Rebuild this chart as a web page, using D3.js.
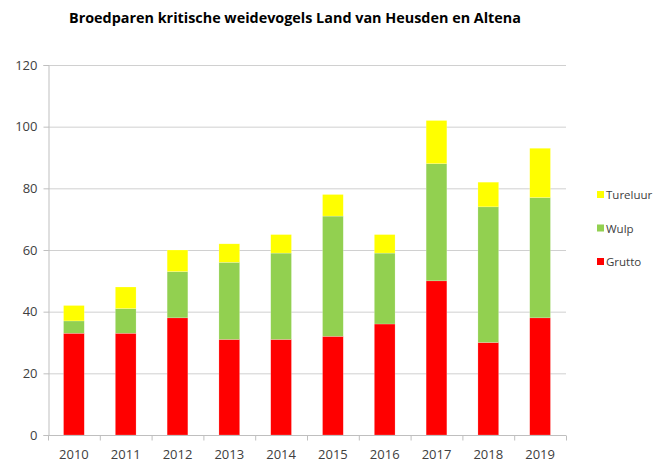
<!DOCTYPE html>
<html><head><meta charset="utf-8">
<script src="https://cdn.jsdelivr.net/npm/d3@7"></script>
<style>body{margin:0;background:#fff}</style>
</head><body>
<script>
const years = ["2010","2011","2012","2013","2014","2015","2016","2017","2018","2019"];
const grutto   = [33,33,38,31,31,32,36,50,30,38];
const wulp     = [4,8,15,25,28,39,23,38,44,39];
const tureluur = [5,7,7,6,6,7,6,14,8,16];
const seriesNames = ["Grutto","Wulp","Tureluur"];
const seriesColors = ["#ff0000","#92d050","#ffff00"];
const yTicks = [0,20,40,60,80,100,120];
const title = "Broedparen kritische weidevogels Land van Heusden en Altena";

const W=656,H=462;
const svg=d3.select("body").append("svg").attr("width",W).attr("height",H);
const font="'Open Sans', sans-serif";
const m={l:48,r:566,t:65,b:435};

const rows=years.map((y,i)=>({year:y,Grutto:grutto[i],Wulp:wulp[i],Tureluur:tureluur[i]}));
const stack=d3.stack().keys(seriesNames)(rows);

const x=d3.scaleBand().domain(years).range([m.l,m.r]).paddingInner(0.6).paddingOuter(0.3);
const y=d3.scaleLinear().domain([0,120]).range([m.b,m.t]);

svg.append("text").attr("x",295).attr("y",23).attr("text-anchor","middle")
  .attr("font-family",font).attr("font-weight","bold").attr("font-size",14.5).attr("fill","#000")
  .attr("textLength",452).attr("lengthAdjust","spacingAndGlyphs")
  .text(title);

// gridlines
svg.append("g").selectAll("line").data(yTicks.filter(d=>d>0)).join("line")
  .attr("x1",m.l).attr("x2",m.r).attr("y1",d=>y(d)+0.5).attr("y2",d=>y(d)+0.5)
  .attr("stroke","#d0d0d0").attr("stroke-width",1);

// y axis
const ya=svg.append("g").attr("transform",`translate(${m.l+0.5},0)`)
  .call(d3.axisLeft(y).tickValues(yTicks).tickSize(5).tickPadding(6));
ya.select(".domain").attr("stroke","#bfbfbf");
ya.selectAll(".tick line").attr("stroke","#bfbfbf");
ya.selectAll("text").attr("font-family",font).attr("font-size",13).attr("fill","#404040");

// bars
svg.append("g").selectAll("g").data(stack).join("g")
  .attr("fill",(d,i)=>seriesColors[i])
  .selectAll("rect").data(d=>d).join("rect")
  .attr("x",d=>x(d.data.year)).attr("width",x.bandwidth())
  .attr("y",d=>y(d[1])).attr("height",d=>y(d[0])-y(d[1]))
  .attr("stroke","rgba(255,255,255,0.4)").attr("stroke-width",0.5);

// x axis
const xa=svg.append("g").attr("transform",`translate(0,${m.b+0.5})`);
xa.append("line").attr("x1",m.l).attr("x2",m.r).attr("stroke","#bfbfbf");
const bounds=years.map(y0=>x(y0)-x.step()*0.3).concat([m.r]);
xa.selectAll("line.t").data(bounds).join("line").attr("class","t")
  .attr("x1",d=>d+0.5).attr("x2",d=>d+0.5).attr("y1",0).attr("y2",5).attr("stroke","#bfbfbf");
xa.selectAll("text").data(years).join("text")
  .attr("x",d=>x(d)+x.bandwidth()/2).attr("y",23.5).attr("text-anchor","middle")
  .attr("font-family",font).attr("font-size",13).attr("fill","#404040").text(d=>d);

// legend
const leg=[...seriesNames].reverse();
const legCol=[...seriesColors].reverse();
const lg=svg.append("g").selectAll("g").data(leg).join("g")
  .attr("transform",(d,i)=>`translate(597,${195+i*33.5})`);
lg.append("rect").attr("x",0).attr("y",-4).attr("width",7).attr("height",7).attr("fill",(d,i)=>legCol[i]);
lg.append("text").attr("x",9).attr("y",4).attr("font-family",font).attr("font-size",11.5)
  .attr("fill","#404040").text(d=>d);
</script>
</body></html>
